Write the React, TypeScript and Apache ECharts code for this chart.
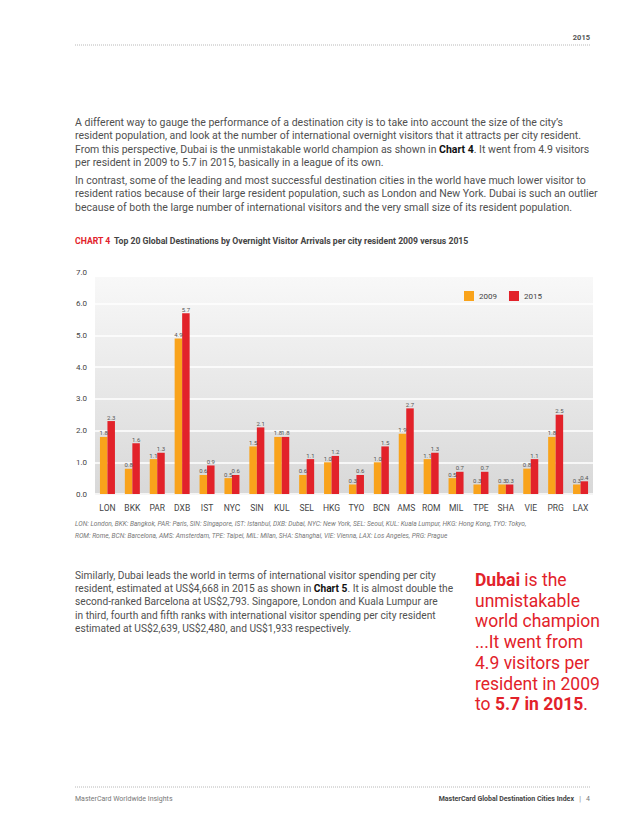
import React, { useEffect, useRef } from "react";
import * as echarts from "echarts";

const categories = ["LON", "BKK", "PAR", "DXB", "IST", "NYC", "SIN", "KUL", "SEL", "HKG", "TYO", "BCN", "AMS", "ROM", "MIL", "TPE", "SHA", "VIE", "PRG", "LAX"];
const values2009 = [1.8, 0.8, 1.1, 4.9, 0.6, 0.5, 1.5, 1.8, 0.6, 1.0, 0.3, 1.0, 1.9, 1.1, 0.5, 0.3, 0.3, 0.8, 1.8, 0.3];
const values2015 = [2.3, 1.6, 1.3, 5.7, 0.9, 0.6, 2.1, 1.8, 1.1, 1.2, 0.6, 1.5, 2.7, 1.3, 0.7, 0.7, 0.3, 1.1, 2.5, 0.4];
const seriesNames = ["2009", "2015"];

const para1 = [
  "A different way to gauge the performance of a destination city is to take into account the size of the city’s",
  "resident population, and look at the number of international overnight visitors that it attracts per city resident.",
  "From this perspective, Dubai is the unmistakable world champion as shown in {b|Chart 4}. It went from 4.9 visitors",
  "per resident in 2009 to 5.7 in 2015, basically in a league of its own.",
];
const para2 = [
  "In contrast, some of the leading and most successful destination cities in the world have much lower visitor to",
  "resident ratios because of their large resident population, such as London and New York. Dubai is such an outlier",
  "because of both the large number of international visitors and the very small size of its resident population.",
];
const para3 = [
  "Similarly, Dubai leads the world in terms of international visitor spending per city",
  "resident, estimated at US$4,668 in 2015 as shown in {b|Chart 5}. It is almost double the",
  "second-ranked Barcelona at US$2,793. Singapore, London and Kuala Lumpur are",
  "in third, fourth and fifth ranks with international visitor spending per city resident",
  "estimated at US$2,639, US$2,480, and US$1,933 respectively.",
];
const callout = [
  "{b|Dubai} is the",
  "unmistakable",
  "world champion",
  "...It went from",
  "4.9 visitors per",
  "resident in 2009",
  "to {b|5.7 in 2015}.",
];
const footnote = [
  "LON: London, BKK: Bangkok, PAR: Paris, SIN: Singapore, IST: Istanbul, DXB: Dubai, NYC: New York, SEL: Seoul, KUL: Kuala Lumpur, HKG: Hong Kong, TYO: Tokyo,",
  "ROM: Rome, BCN: Barcelona, AMS: Amsterdam, TPE: Taipei, MIL: Milan, SHA: Shanghai, VIE: Vienna, LAX: Los Angeles, PRG: Prague",
];

const FONT = "Roboto, 'Noto Sans', sans-serif";
const TEXT = "#505050";
const RED = "#e2222a";
const ORANGE = "#f9a31b";

function textLines(lines: string[], x: number, y0: number, lh: number, size: number, color: string, extra: any = {}) {
  return lines.map((t, i) => ({
    type: "text",
    x,
    y: y0 + i * lh,
    style: {
      text: t,
      fill: color,
      fontSize: size,
      fontFamily: FONT,
      textVerticalAlign: "middle",
      rich: {
        b: { fontWeight: "bold", fill: extra.boldColor || "#111", fontSize: size, fontFamily: FONT },
      },
      ...extra.style,
    },
  }));
}

export default function App() {
  const ref = useRef<HTMLDivElement>(null);
  useEffect(() => {
    const chart = echarts.init(ref.current!, undefined, { renderer: "svg" });
    const graphic: any[] = [
      { type: "text", x: 590, y: 37, style: { text: "2015", fill: "#555", fontSize: 7.5, fontWeight: "bold", fontFamily: FONT, textAlign: "right", textVerticalAlign: "middle" } },
      { type: "line", shape: { x1: 75, y1: 45, x2: 591, y2: 45 }, style: { stroke: "#b8b8b8", lineWidth: 1, lineDash: [1, 1] } },
      ...textLines(para1, 75, 122, 13.6, 10.5, TEXT),
      ...textLines(para2, 75, 180, 13.6, 10.5, TEXT),
      {
        type: "text", x: 75, y: 241,
        style: {
          text: "{r|CHART 4} {d|Top 20 Global Destinations by Overnight Visitor Arrivals per city resident 2009 versus 2015}",
          textVerticalAlign: "middle",
          rich: {
            r: { fill: RED, fontWeight: "bold", fontSize: 8.7, fontFamily: FONT },
            d: { fill: "#444", fontWeight: "bold", fontSize: 8.7, fontFamily: FONT },
          },
        },
      },
      {
        type: "rect", z: -10,
        shape: { x: 95, y: 277, width: 498, height: 218 },
        style: {
          fill: new echarts.graphic.LinearGradient(0, 0, 0, 1, [
            { offset: 0, color: "#f8f8f8" },
            { offset: 1, color: "#d8d8d8" },
          ]),
        },
      },
      ...textLines(footnote, 75, 524, 12, 6.6, "#777", { style: { fontStyle: "italic" } }),
      ...textLines(para3, 75, 575, 13.4, 10.2, TEXT),
      ...textLines(callout, 475, 580, 20.7, 17.5, RED, { boldColor: RED }),
      { type: "line", shape: { x1: 75, y1: 787, x2: 591, y2: 787 }, style: { stroke: "#b8b8b8", lineWidth: 1, lineDash: [1, 1] } },
      { type: "text", x: 75, y: 799, style: { text: "MasterCard Worldwide Insights", fill: "#777", fontSize: 7, fontFamily: FONT, textVerticalAlign: "middle" } },
      {
        type: "text", x: 590, y: 799,
        style: {
          text: "{b|MasterCard Global Destination Cities Index}   |   4",
          fill: "#777", fontSize: 7, fontFamily: FONT, textAlign: "right", textVerticalAlign: "middle",
          rich: { b: { fontWeight: "bold", fill: "#444", fontSize: 7, fontFamily: FONT } },
        },
      },
    ];

    const labelOpt = {
      show: true,
      position: "top",
      distance: 1,
      fontSize: 6,
      color: "#555",
      fontFamily: FONT,
      formatter: (p: any) => Number(p.value).toFixed(1),
    };

    chart.setOption({
      animation: false,
      backgroundColor: "#fff",
      textStyle: { fontFamily: FONT },
      graphic,
      legend: {
        data: seriesNames,
        left: 459,
        top: 286,
        itemWidth: 10,
        itemHeight: 10,
        itemGap: 12,
        icon: "rect",
        textStyle: { fontSize: 8, color: "#444", fontFamily: FONT },
      },
      grid: { left: 95, right: 45, top: 272, bottom: 332, containLabel: false },
      xAxis: {
        type: "category",
        data: categories,
        axisLine: { show: false },
        axisTick: { show: false },
        axisLabel: { fontSize: 8.5, color: "#444", margin: 9, fontFamily: FONT, interval: 0 },
      },
      yAxis: {
        type: "value",
        min: 0,
        max: 7,
        interval: 1,
        axisLine: { show: false },
        axisTick: { show: false },
        splitLine: { show: true, lineStyle: { color: "#ffffff", width: 1.5 } },
        axisLabel: { fontSize: 8, color: "#444", margin: 8, fontFamily: FONT, formatter: (v: number) => v.toFixed(1) },
      },
      series: [
        {
          name: seriesNames[0], type: "bar", data: values2009, barWidth: 7.5, barGap: "0%",
          itemStyle: { color: ORANGE }, label: labelOpt,
        },
        {
          name: seriesNames[1], type: "bar", data: values2015, barWidth: 7.5, barGap: "0%",
          itemStyle: { color: RED }, label: labelOpt,
        },
      ],
    });
    return () => chart.dispose();
  }, []);
  return <div ref={ref} style={{ position: "fixed", left: 0, top: 0, width: 638, height: 826 }} />;
}
